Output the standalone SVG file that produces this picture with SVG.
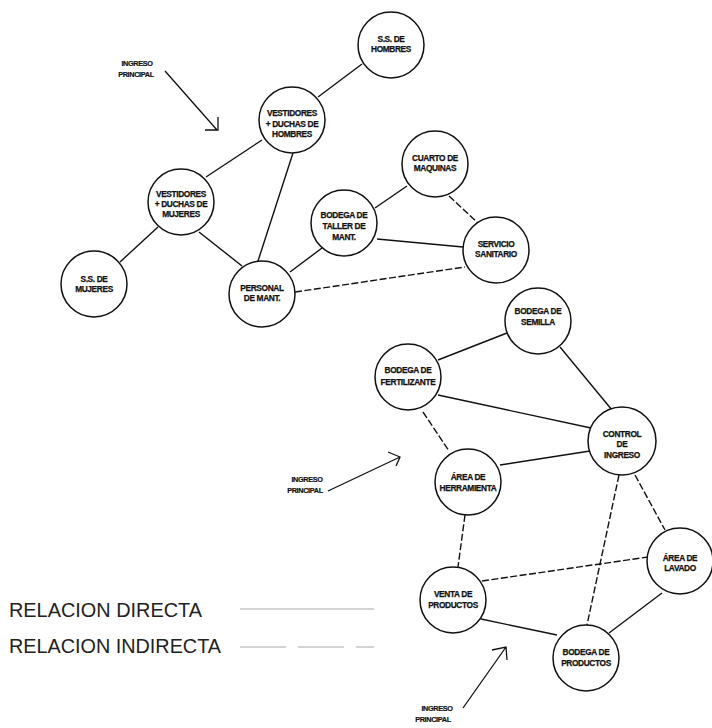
<svg xmlns="http://www.w3.org/2000/svg" width="712" height="728" viewBox="0 0 712 728">
  <style>
    .node circle { fill: #fff; stroke: #111; stroke-width: 1.5; }
    .node text { font-family: "Liberation Sans", Arial, sans-serif; font-weight: bold; font-size: 8.3px; fill: #111; stroke: #111; stroke-width: 0.25; text-anchor: middle; letter-spacing: -0.35px; }
    .link { stroke: #111; stroke-width: 1.4; fill: none; }
    .ind { stroke-dasharray: 7 2.5; }
    .entry text { font-family: "Liberation Sans", Arial, sans-serif; font-weight: bold; font-size: 7.3px; fill: #111; stroke: #111; stroke-width: 0.2; text-anchor: middle; letter-spacing: -0.35px; }
    .entry path { stroke: #111; stroke-width: 1.3; fill: none; }
    .legend text { font-family: "Liberation Sans", Arial, sans-serif; font-size: 20px; fill: #222; }
    .legend line { stroke: #aaa; stroke-width: 1.2; }
  </style>
  <rect width="712" height="728" fill="#fff"/>

  <!-- connectors -->
  <g id="connectors">
    <line class="link" x1="362" y1="64" x2="318" y2="97"/>
    <line class="link" x1="262" y1="140" x2="206" y2="177"/>
    <line class="link" x1="293" y1="153" x2="258" y2="261"/>
    <line class="link" x1="158" y1="227" x2="120" y2="262"/>
    <line class="link" x1="199" y1="232" x2="242" y2="266"/>
    <line class="link" x1="290" y1="272" x2="322" y2="248"/>
    <line class="link ind" x1="295" y1="292" x2="465" y2="267"/>
    <line class="link" x1="375" y1="208" x2="407" y2="186"/>
    <line class="link" x1="377" y1="239" x2="463" y2="247"/>
    <line class="link ind" x1="449" y1="196" x2="477" y2="222"/>
    <line class="link" x1="507" y1="333" x2="438" y2="360"/>
    <line class="link" x1="438" y1="395" x2="591" y2="428"/>
    <line class="link" x1="560" y1="347" x2="612" y2="410"/>
    <line class="link ind" x1="423" y1="412" x2="449" y2="451"/>
    <line class="link" x1="500" y1="465" x2="590" y2="451"/>
    <line class="link ind" x1="619" y1="475" x2="587" y2="625"/>
    <line class="link ind" x1="635" y1="475" x2="665" y2="530"/>
    <line class="link ind" x1="465" y1="515" x2="458" y2="567"/>
    <line class="link ind" x1="482" y1="581" x2="648" y2="557"/>
    <line class="link" x1="481" y1="619" x2="557" y2="635"/>
    <line class="link" x1="609" y1="633" x2="662" y2="593"/>
  </g>

  <!-- nodes -->
  <g id="n-ss-hombres" class="node">
    <circle cx="391" cy="45" r="33"/>
    <text x="391" y="42">S.S. DE</text>
    <text x="391" y="52">HOMBRES</text>
  </g>
  <g id="n-vest-hombres" class="node">
    <circle cx="292" cy="120" r="33"/>
    <text x="292" y="116">VESTIDORES</text>
    <text x="292" y="127">+ DUCHAS DE</text>
    <text x="292" y="137">HOMBRES</text>
  </g>
  <g id="n-vest-mujeres" class="node">
    <circle cx="181" cy="202" r="33"/>
    <text x="181" y="197">VESTIDORES</text>
    <text x="181" y="207">+ DUCHAS DE</text>
    <text x="181" y="217">MUJERES</text>
  </g>
  <g id="n-ss-mujeres" class="node">
    <circle cx="94" cy="284" r="33"/>
    <text x="94" y="282">S.S. DE</text>
    <text x="94" y="292">MUJERES</text>
  </g>
  <g id="n-personal" class="node">
    <circle cx="262" cy="294" r="33"/>
    <text x="262" y="291">PERSONAL</text>
    <text x="262" y="301">DE MANT.</text>
  </g>
  <g id="n-cuarto" class="node">
    <circle cx="435" cy="164" r="33"/>
    <text x="435" y="161">CUARTO DE</text>
    <text x="435" y="171">MAQUINAS</text>
  </g>
  <g id="n-bodega-taller" class="node">
    <circle cx="344" cy="223" r="33"/>
    <text x="344" y="218">BODEGA DE</text>
    <text x="344" y="229">TALLER DE</text>
    <text x="344" y="240">MANT.</text>
  </g>
  <g id="n-servicio" class="node">
    <circle cx="496" cy="250" r="33"/>
    <text x="496" y="247">SERVICIO</text>
    <text x="496" y="257">SANITARIO</text>
  </g>
  <g id="n-semilla" class="node">
    <circle cx="538" cy="321" r="33"/>
    <text x="538" y="314">BODEGA DE</text>
    <text x="538" y="325">SEMILLA</text>
  </g>
  <g id="n-fertilizante" class="node">
    <circle cx="408" cy="377" r="33"/>
    <text x="408" y="373">BODEGA DE</text>
    <text x="408" y="385">FERTILIZANTE</text>
  </g>
  <g id="n-control" class="node">
    <circle cx="622" cy="441" r="34"/>
    <text x="622" y="437">CONTROL</text>
    <text x="622" y="447">DE</text>
    <text x="622" y="458">INGRESO</text>
  </g>
  <g id="n-herramienta" class="node">
    <circle cx="468" cy="482" r="33"/>
    <text x="468" y="480">ÁREA DE</text>
    <text x="468" y="491">HERRAMIENTA</text>
  </g>
  <g id="n-lavado" class="node">
    <circle cx="680" cy="561" r="33"/>
    <text x="680" y="561">ÁREA DE</text>
    <text x="680" y="571">LAVADO</text>
  </g>
  <g id="n-venta" class="node">
    <circle cx="453" cy="600" r="33"/>
    <text x="453" y="597">VENTA DE</text>
    <text x="453" y="608">PRODUCTOS</text>
  </g>
  <g id="n-bodega-productos" class="node">
    <circle cx="586" cy="658" r="33"/>
    <text x="586" y="655">BODEGA DE</text>
    <text x="586" y="666">PRODUCTOS</text>
  </g>

  <!-- entrance markers -->
  <g id="entry-top" class="entry">
    <text x="137" y="66">INGRESO</text>
    <text x="136" y="77">PRINCIPAL</text>
    <path d="M165 71 L217 130 M218 117 L218 130 L205 130"/>
  </g>
  <g id="entry-middle" class="entry">
    <text x="307" y="482">INGRESO</text>
    <text x="305" y="493">PRINCIPAL</text>
    <path d="M328 491 L400 457 M388 452 L400 457 L396 466"/>
  </g>
  <g id="entry-bottom" class="entry">
    <text x="437" y="711">INGRESO</text>
    <text x="433" y="722">PRINCIPAL</text>
    <path d="M463 708 L506 647 M492 650 L506 647 L507 660"/>
  </g>

  <!-- legend -->
  <g id="legend" class="legend">
    <text x="9" y="617" textLength="193" lengthAdjust="spacingAndGlyphs">RELACION DIRECTA</text>
    <text x="9" y="653" textLength="212" lengthAdjust="spacingAndGlyphs">RELACION INDIRECTA</text>
    <line x1="240" y1="609" x2="374" y2="609"/>
    <line x1="240" y1="647" x2="374" y2="647" stroke-dasharray="46 12"/>
  </g>
</svg>
